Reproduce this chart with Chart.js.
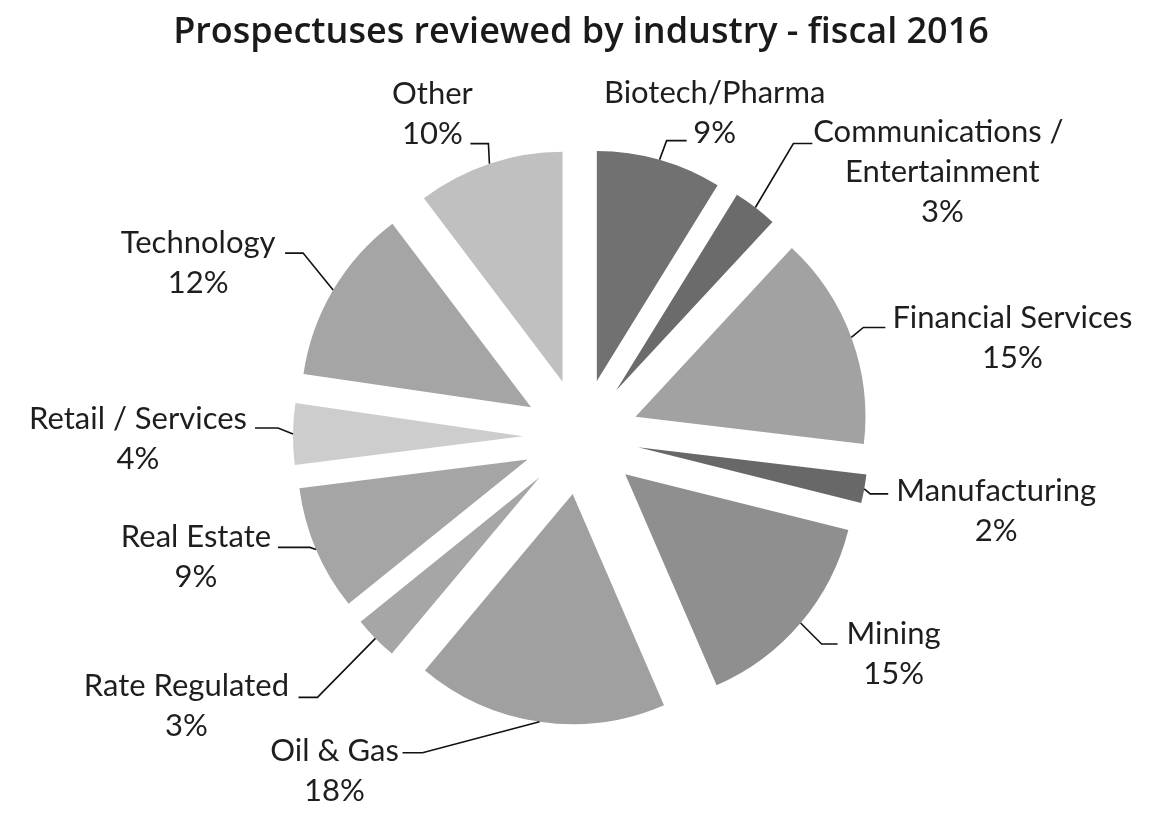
<!DOCTYPE html>
<html><head><meta charset="utf-8">
<script src="https://cdn.jsdelivr.net/npm/chart.js@4.4.0/dist/chart.umd.min.js"></script>
<style>html,body{margin:0;padding:0;background:#fff;} #wrap{width:1154px;height:819px;}</style>
</head><body><div id="wrap"><canvas id="c" width="1154" height="819"></canvas></div>
<script>
// ---- data ----
const titleText = 'Prospectuses reviewed by industry - fiscal 2016';
const categories = ['Biotech/Pharma', 'Communications / Entertainment', 'Financial Services', 'Manufacturing', 'Mining', 'Oil & Gas', 'Rate Regulated', 'Real Estate', 'Retail / Services', 'Technology', 'Other'];
const labelLines = [['Biotech/Pharma'], ['Communications / ', 'Entertainment'], ['Financial Services'], ['Manufacturing'], ['Mining'], ['Oil & Gas'], ['Rate Regulated'], ['Real Estate'], ['Retail / Services'], ['Technology'], ['Other']];
const shares = [8.8, 3.1, 15.0, 2.0, 14.6, 17.6, 3.1, 8.8, 4.3, 12.4, 10.3];
const sliceColors = ['#717171', '#6b6b6b', '#a2a2a2', '#686868', '#8f8f8f', '#a0a0a0', '#a6a6a6', '#a5a5a5', '#cdcdcd', '#a5a5a5', '#c0c0c0'];

// ---- layout (label placement relative to each slice's outer mid point) ----
const explode = 58;
const labelLayout = [
  {text: [55, -67],  elbow: [7, -19],  end: [27, -19]},
  {text: [187, -75], elbow: [38, -64], end: [57, -64]},
  {text: [161, -19], elbow: [12, -10], end: [34, -10]},
  {text: [132, 2],   elbow: [6, 5],    end: [24, 5]},
  {text: [93, 11],   elbow: [21, 21],  end: [37, 21]},
  {text: [-205, 29], elbow: [-117, 31], end: [-137, 31]},
  {text: [-189, 48], elbow: [-58, 59], end: [-77, 59]},
  {text: [-120, -12], elbow: [-6, -2], end: [-38, -2]},
  {text: [-155, -15], elbow: [-15, -6], end: [-38, -6]},
  {text: [-135, -47], elbow: [-30, -37], end: [-48, -37]},
  {text: [-57, -70], elbow: [-1, -20], end: [-19, -20]}
];
const labelFont = '31px Lato';
const lineGap = 40;

const explodePlugin = {
  id: 'explodePie',
  beforeDatasetDraw(chart, args) {
    const ctx = chart.ctx;
    args.meta.data.forEach(arc => {
      const {startAngle, endAngle} = arc.getProps(['startAngle', 'endAngle'], true);
      const mid = (startAngle + endAngle) / 2;
      ctx.save();
      ctx.translate(Math.cos(mid) * explode, Math.sin(mid) * explode);
      arc.draw(ctx);
      ctx.restore();
    });
    return false;
  },
  afterDatasetsDraw(chart) {
    const ctx = chart.ctx;
    const meta = chart.getDatasetMeta(0);
    const vals = chart.data.datasets[0].data;
    const total = vals.reduce((a, b) => a + b, 0);
    meta.data.forEach((arc, i) => {
      const {x, y, startAngle, endAngle, outerRadius} = arc.getProps(['x', 'y', 'startAngle', 'endAngle', 'outerRadius'], true);
      const mid = (startAngle + endAngle) / 2;
      const px = x + Math.cos(mid) * (outerRadius + explode);
      const py = y + Math.sin(mid) * (outerRadius + explode);
      const L = labelLayout[i];
      ctx.save();
      ctx.strokeStyle = '#111';
      ctx.lineWidth = 1.6;
      ctx.beginPath();
      ctx.moveTo(px, py);
      ctx.lineTo(px + L.elbow[0], py + L.elbow[1]);
      ctx.lineTo(px + L.end[0], py + L.end[1]);
      ctx.stroke();
      ctx.fillStyle = '#1e1e1e';
      ctx.font = labelFont;
      ctx.textAlign = 'center';
      ctx.textBaseline = 'middle';
      const lines = labelLines[i].concat([Math.round(vals[i] / total * 100) + '%']);
      lines.forEach((t, k) => {
        ctx.fillText(t, px + L.text[0], py + L.text[1] + k * lineGap);
      });
      ctx.restore();
    });
  }
};

new Chart(document.getElementById('c'), {
  type: 'pie',
  data: {
    labels: categories,
    datasets: [{
      data: shares,
      backgroundColor: sliceColors,
      borderWidth: 0,
      radius: 230
    }]
  },
  options: {
    responsive: false,
    animation: false,
    layout: {padding: {left: 8, bottom: 5}},
    plugins: {
      legend: {display: false},
      tooltip: {enabled: false},
      title: {
        display: true,
        text: titleText,
        color: '#1a1a1a',
        font: {family: "'Open Sans'", size: 36, weight: '600', lineHeight: 1.15},
        padding: {top: 12, bottom: 6}
      }
    }
  },
  plugins: [explodePlugin]
});
</script>
</body></html>
